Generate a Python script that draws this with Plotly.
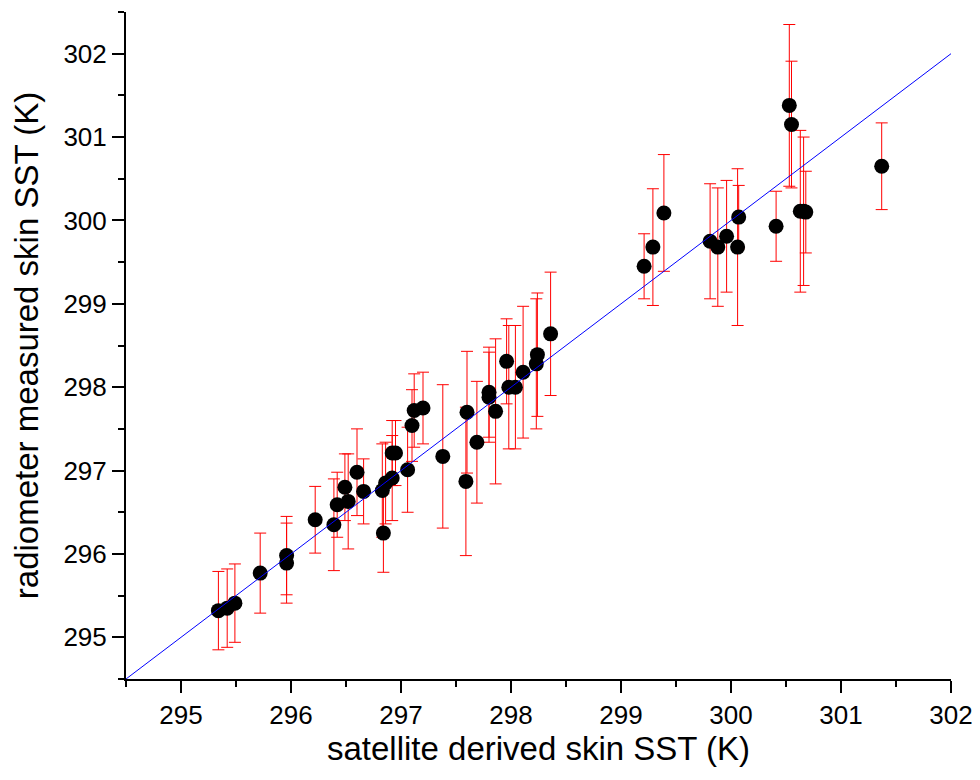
import plotly.graph_objects as go

# satellite derived skin SST (K)
sat_sst = [295.34, 295.42, 295.49, 295.72, 295.96, 295.96, 296.22, 296.39, 296.42, 296.49,
           296.52, 296.60, 296.66, 296.83, 296.86, 296.84, 296.92, 296.92, 296.95, 297.06,
           297.10, 297.12, 297.20, 297.38, 297.59, 297.60, 297.69, 297.80, 297.80, 297.86,
           297.96, 297.98, 298.04, 298.11, 298.24, 298.23, 298.36, 299.21, 299.29, 299.39,
           299.81, 299.88, 299.96, 300.06, 300.07, 300.41, 300.53, 300.55, 300.63, 300.66,
           300.68, 301.37]
# radiometer measured skin SST (K)
rad_sst = [295.32, 295.35, 295.41, 295.77, 295.98, 295.89, 296.41, 296.35, 296.59, 296.80,
           296.63, 296.98, 296.75, 296.76, 296.85, 296.25, 296.91, 297.21, 297.21, 297.01,
           297.54, 297.72, 297.75, 297.17, 296.87, 297.70, 297.34, 297.94, 297.88, 297.71,
           298.31, 298.00, 298.00, 298.18, 298.39, 298.28, 298.64, 299.45, 299.68, 300.09,
           299.75, 299.68, 299.81, 299.68, 300.04, 299.93, 301.38, 301.15, 300.11, 300.11,
           300.10, 300.65]
# measurement uncertainty (K)
rad_err = [0.47, 0.47, 0.47, 0.48, 0.47, 0.48, 0.40, 0.55, 0.39, 0.40,
           0.57, 0.52, 0.39, 0.56, 0.49, 0.47, 0.51, 0.39, 0.39, 0.51,
           0.43, 0.44, 0.43, 0.86, 0.89, 0.73, 0.73, 0.54, 0.54, 0.87,
           0.51, 0.74, 0.74, 0.79, 0.74, 0.78, 0.74, 0.39, 0.70, 0.70,
           0.69, 0.71, 0.67, 0.94, 0.38, 0.42, 0.97, 0.76, 0.97, 0.89,
           0.49, 0.52]
# 1:1 line
line_x = [294.5, 302.0]
line_y = [294.5, 302.0]

fig = go.Figure()
fig.add_trace(go.Scatter(
    x=sat_sst, y=rad_sst, mode="markers",
    marker=dict(color="black", size=15, line=dict(width=0)),
    error_y=dict(type="data", array=rad_err, visible=True, color="red",
                 thickness=1, width=6),
    showlegend=False,
))
fig.add_trace(go.Scatter(
    x=line_x, y=line_y, mode="lines",
    line=dict(color="blue", width=1), showlegend=False,
))

font_family = "Arial, Liberation Sans, sans-serif"
axis_common = dict(
    showline=True, linecolor="black", linewidth=2, mirror=False,
    showgrid=False, zeroline=False,
    ticks="outside", ticklen=12, tickwidth=2, tickcolor="black",
    dtick=1, tickfont=dict(family=font_family, size=26, color="black"),
    minor=dict(ticks="outside", ticklen=6, tickwidth=2, tickcolor="black", dtick=0.5, showgrid=False),
    automargin=False,
)
fig.update_xaxes(range=[294.5, 302], tick0=295,
                 title=dict(text="satellite derived skin SST (K)",
                            font=dict(family=font_family, size=33, color="black"), standoff=8),
                 **axis_common)
fig.update_yaxes(range=[294.5, 302.5], tick0=295,
                 title=dict(text="radiometer measured skin SST (K)",
                            font=dict(family=font_family, size=33, color="black"), standoff=15),
                 **axis_common)
fig.update_layout(
    width=972, height=772,
    margin=dict(l=118, r=29, t=4, b=101),
    plot_bgcolor="white", paper_bgcolor="white",
    font=dict(family=font_family),
)
fig.write_html("out.html")
